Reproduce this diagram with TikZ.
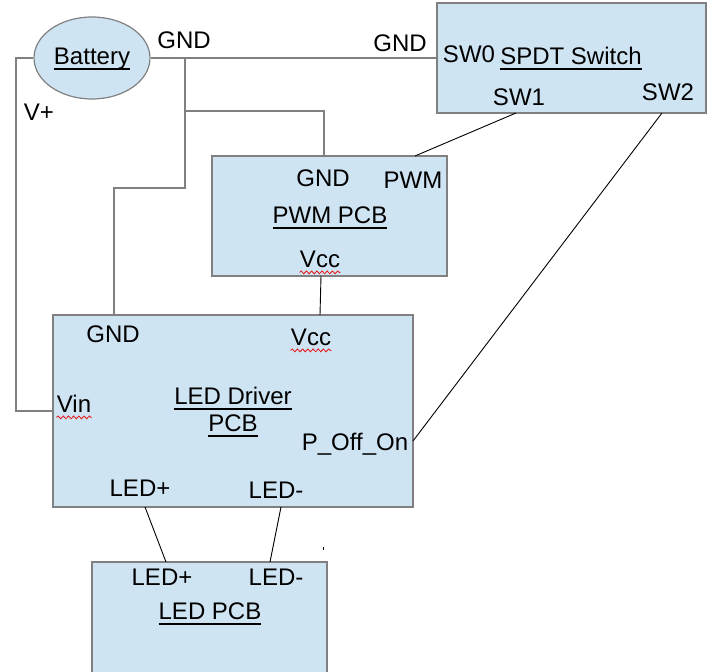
\documentclass[tikz,border=0pt]{standalone}
\usepackage{fontspec}
\setmainfont{Liberation Sans}
\usetikzlibrary{shapes.geometric,decorations.pathmorphing}

\definecolor{pcbblue}{RGB}{207,228,242}
\definecolor{rimgray}{RGB}{128,128,128}
\definecolor{spellred}{RGB}{230,20,20}

\newcommand{\ulined}[1]{\setbox0\hbox{#1}\rlap{\rule[-2.3pt]{\wd0}{0.95pt}}\box0}

\tikzset{
  pcb/.style={draw=rimgray, fill=pcbblue, line width=0.6pt, inner sep=0},
  wire/.style={draw=rimgray, line width=0.6pt},
  link/.style={draw=black, line width=0.45pt},
  lbl/.style={font=\fontsize{12}{14}\selectfont, inner sep=0, anchor=base},
  spell/.style={draw=spellred, line width=0.4pt, decorate,
    decoration={snake, amplitude=0.7pt, segment length=2.6pt}}
}

\begin{document}
\begin{tikzpicture}[x=0.5pt, y=-0.5pt]
            \useasboundingbox (0,0) rectangle (714,672);
            \clip (0,0) rectangle (714,672);

            \node[pcb, ellipse, minimum width=58pt, minimum height=41pt] (bat) at (92,58) {};
            \node[pcb, minimum width=134.5pt, minimum height=55pt] (sw) at (571.5,58) {};
            \node[pcb, minimum width=117.5pt, minimum height=60pt] (pwm) at (329.5,216) {};
            \node[pcb, minimum width=180pt, minimum height=96pt] (drv) at (233,411) {};
            \node[pcb, minimum width=117.5pt, minimum height=64pt] (led) at (209.5,626) {};

            \coordinate (vplus) at (16,411);
            \coordinate (gtop) at (185,58);
            \coordinate (gbend) at (185,188);
            \coordinate (gtee) at (185,111);
            \coordinate (dgnd) at (114,315);
            \coordinate (pgnd) at (324,156);
            \coordinate (pwmin) at (415,156);
            \coordinate (sw1) at (516,113);
            \coordinate (sw2) at (662,113);
            \coordinate (poff) at (413,441);
            \coordinate (pvcc) at (321,276);
            \coordinate (dvcc) at (320,315);
            \coordinate (dledp) at (145,507);
            \coordinate (dledm) at (281,507);
            \coordinate (lledp) at (166,562);
            \coordinate (lledm) at (270,562);
            \coordinate (tick) at (323,547);

            \draw[wire] (bat.west) -| (vplus) -- (drv.west);
            \draw[wire] (bat.east) -- (sw.west);
            \draw[wire] (gtop) -- (gbend) -| (dgnd);
            \draw[wire] (gtee) -| (pgnd);

            \draw[link] (sw1) -- (pwmin);
            \draw[link] (sw2) -- (poff);
            \draw[link] (pvcc) -- (dvcc);
            \draw[link] (dledp) -- (lledp);
            \draw[link] (dledm) -- (lledm);
            \draw[link] (tick) -- ++(0,3);

            \node[lbl] (batname) at (92,65) {\ulined{Battery}};
            \node[lbl] (gndbat) at (184,49) {GND};
            \node[lbl] (vp) at (39,121) {V+};
            \node[lbl] (gndsw) at (400,52) {GND};

            \node[lbl] (sw0) at (469,63) {SW0};
            \node[lbl] (swname) at (571,65) {\ulined{SPDT Switch}};
            \node[lbl] (sw1txt) at (519,106) {SW1};
            \node[lbl] (sw2txt) at (668,101) {SW2};

            \node[lbl] (pgndtxt) at (323,187) {GND};
            \node[lbl] (pwmtxt) at (413,189) {PWM};
            \node[lbl] (pwmname) at (330,224) {\ulined{PWM PCB}};
            \node[lbl] (pvcctxt) at (320,268) {Vcc};

            \node[lbl] (dgndtxt) at (113,343) {GND};
            \node[lbl] (dvcctxt) at (311,346) {Vcc};
            \node[lbl] (vin) at (74,413) {Vin};
            \node[lbl] (drvname1) at (233,405) {\ulined{LED Driver}};
            \node[lbl] (drvname2) at (233,432) {\ulined{PCB}};
            \node[lbl] (pofftxt) at (355,451) {P\_Off\_On};
            \node[lbl] (dledptxt) at (140,497) {LED+};
            \node[lbl] (dledmtxt) at (276,499) {LED-};

            \node[lbl] (lledptxt) at (162,586) {LED+};
            \node[lbl] (lledmtxt) at (276,586) {LED-};
            \node[lbl] (ledname) at (210,620) {\ulined{LED PCB}};

            \draw[spell] ([yshift=-2.2pt]pvcctxt.base west) -- ([yshift=-2.2pt]pvcctxt.base east);
            \draw[spell] ([yshift=-2.2pt]dvcctxt.base west) -- ([yshift=-2.2pt]dvcctxt.base east);
            \draw[spell] ([yshift=-2.2pt]vin.base west) -- ([yshift=-2.2pt]vin.base east);
        \end{tikzpicture}
\end{document}
